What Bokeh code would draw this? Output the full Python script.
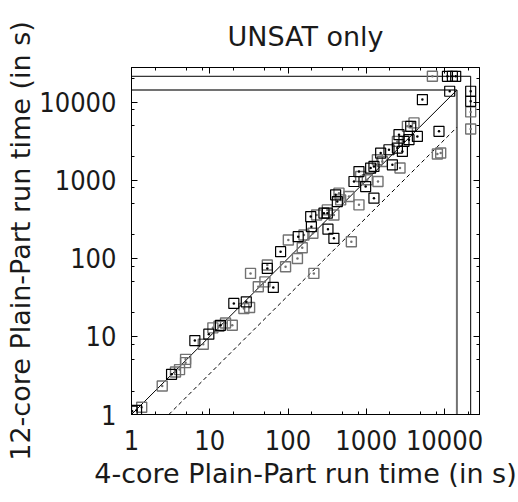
from bokeh.plotting import figure
from bokeh.models import Range1d, FixedTicker, PrintfTickFormatter, LogAxis
from bokeh.embed import file_html
from bokeh.resources import INLINE

TITLE = "UNSAT only"
X_LABEL = "4-core Plain-Part run time (in s)"
Y_LABEL = "12-core Plain-Part run time (in s)"

AXIS_MIN = 1
AXIS_MAX = 28000
MAJOR_TICKS = [1, 10, 100, 1000, 10000]
MINOR_TICKS = [2, 5, 8, 20, 50, 80, 200, 500, 800, 2000, 5000, 8000, 20000]

TIMEOUT_A = 14400   # grey limit
TIMEOUT_B = 21600   # black limit
SPEEDUP = 3         # ideal 12-core vs 4-core

# series drawn in black
black_x = [1.02, 1.16, 3.25, 6.45, 9.73, 13.7, 20.3, 29.3, 54.4, 64.9, 80.4, 135, 195, 199,
           318, 324, 386, 288, 406, 427, 697, 807, 982, 1138, 1254, 1528, 1951, 2157, 2500,
           1254, 2620, 3034, 2897, 3700, 3515, 4500, 5216, 8500, 10900, 12600, 13900, 11650,
           21600, 21600]
black_y = [1.10, 1.13, 3.27, 8.86, 10.7, 13.9, 26.5, 27.8, 74.6, 42.5, 122, 190, 344, 255,
           380, 237, 181, 380, 653, 535, 968, 1300, 835, 1439, 592, 2244, 2473, 1585, 2600,
           1510, 3855, 3162, 2351, 4930, 3325, 3666, 10860, 4252, 21600, 21600, 21600, 13900,
           13900, 10330]

# series drawn in grey
gray_x = [1.35, 2.47, 3.65, 4.11, 4.91, 4.91, 8.26, 10.96, 13.1, 15.9, 19.4, 27.3, 32.3, 33.2,
          41.7, 50.7, 54.4, 93.1, 101, 132, 152, 208, 214, 232, 386, 645, 807, 160, 318, 448,
          471, 601, 848, 1032, 1412, 1606, 2700, 1387, 2500, 3355, 4075, 8940, 8110, 7000,
          21600, 21600]
gray_y = [1.24, 2.32, 3.50, 3.76, 4.62, 5.09, 7.94, 12.9, 13.5, 14.9, 13.9, 22.8, 23.5, 64.3,
          43.3, 50.1, 82.3, 78.2, 172, 100, 137, 210, 64.3, 361, 361, 164, 486, 200, 419, 687,
          563, 621, 1122, 1018, 968, 1750, 1440, 1841, 3162, 4930, 5460, 2244, 2178, 21600,
          7550, 4560]

TEXT = "#1a1a1a"
GREY = "#727272"

p = figure(x_axis_type="log", y_axis_type="log",
           x_range=Range1d(AXIS_MIN, AXIS_MAX), y_range=Range1d(AXIS_MIN, AXIS_MAX),
           frame_width=348, frame_height=347,
           min_border_left=131, min_border_right=37, min_border_top=67, min_border_bottom=84,
           output_backend="svg", toolbar_location=None, title=TITLE)

p.title.align = "center"
p.title.text_font = "DejaVu Sans"
p.title.text_font_size = "27px"
p.title.text_font_style = "normal"
p.title.text_color = TEXT
p.title.standoff = 31

p.xgrid.visible = False
p.ygrid.visible = False
p.outline_line_color = "black"
p.background_fill_color = "white"
p.border_fill_color = "white"


def style(ax, labels=True):
    ax.ticker = FixedTicker(ticks=MAJOR_TICKS, minor_ticks=MINOR_TICKS)
    ax.major_tick_in = 6
    ax.major_tick_out = 0
    ax.minor_tick_in = 3
    ax.minor_tick_out = 0
    ax.axis_line_color = "black"
    ax.major_tick_line_color = "black"
    ax.minor_tick_line_color = "black"
    if labels:
        ax.formatter = PrintfTickFormatter(format="%d")
        ax.major_label_text_font = "DejaVu Sans Condensed"
        ax.major_label_text_font_size = "27px"
        ax.major_label_text_color = TEXT
        ax.axis_label_text_font = "DejaVu Sans"
        ax.axis_label_text_font_size = "27px"
        ax.axis_label_text_font_style = "normal"
        ax.axis_label_text_color = TEXT
    else:
        ax.major_label_text_font_size = "2px"
        ax.major_label_text_alpha = 0
        ax.major_label_standoff = 0


style(p.xaxis[0])
style(p.yaxis[0])
p.xaxis[0].axis_label = X_LABEL
p.yaxis[0].axis_label = Y_LABEL
p.xaxis[0].major_label_standoff = 15
p.xaxis[0].axis_label_standoff = 5
p.yaxis[0].major_label_standoff = 15
p.yaxis[0].axis_label_standoff = 0

top = LogAxis()
right = LogAxis()
style(top, labels=False)
style(right, labels=False)
p.add_layout(top, "above")
p.add_layout(right, "right")

# limit lines
p.line([AXIS_MIN, TIMEOUT_A], [TIMEOUT_A, TIMEOUT_A], line_color=GREY, line_width=2)
p.line([TIMEOUT_A, TIMEOUT_A], [AXIS_MIN, TIMEOUT_A], line_color=GREY, line_width=2)
p.line([AXIS_MIN, TIMEOUT_B], [TIMEOUT_B, TIMEOUT_B], line_color="black", line_width=1)
p.line([TIMEOUT_B, TIMEOUT_B], [AXIS_MIN, TIMEOUT_B], line_color="black", line_width=1)

# y = x and y = x / 3
p.line([AXIS_MIN, TIMEOUT_A], [AXIS_MIN, TIMEOUT_A], line_color="black", line_width=1)
p.line([AXIS_MIN * SPEEDUP, TIMEOUT_A], [AXIS_MIN, TIMEOUT_A / SPEEDUP],
       line_color="black", line_width=1, line_dash="4 3")

p.scatter(gray_x, gray_y, marker="square_dot", size=10, fill_color=None,
          line_color=GREY, line_width=1.4)
p.scatter(black_x, black_y, marker="square_dot", size=10, fill_color=None,
          line_color="black", line_width=1.2)

open("out.html", "w").write(file_html(p, INLINE))
